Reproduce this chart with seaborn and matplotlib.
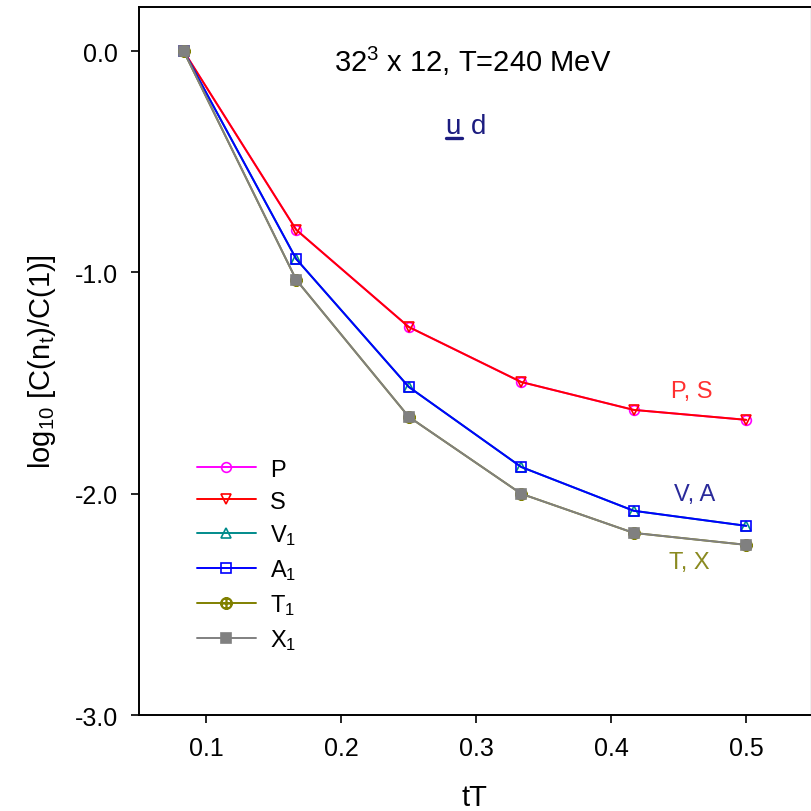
import matplotlib
matplotlib.use("Agg")
import matplotlib.pyplot as plt
import seaborn as sns

# --- data ---
tT = [1/12, 2/12, 3/12, 4/12, 5/12, 6/12]
P = [0.0, -0.807, -1.246, -1.495, -1.621, -1.666]
S = [0.0, -0.807, -1.246, -1.495, -1.621, -1.666]
V1 = [0.0, -0.939, -1.517, -1.879, -2.077, -2.145]
A1 = [0.0, -0.939, -1.517, -1.879, -2.077, -2.145]
T1 = [0.0, -1.033, -1.652, -2.000, -2.177, -2.231]
X1 = [0.0, -1.033, -1.652, -2.000, -2.177, -2.231]

sns.set_theme(style="ticks")
plt.rcParams['font.family'] = ['Liberation Sans', 'DejaVu Sans']
plt.rcParams['mathtext.fontset'] = 'custom'
plt.rcParams['mathtext.rm'] = 'Liberation Sans'
plt.rcParams['mathtext.it'] = 'Liberation Sans:italic'
plt.rcParams['axes.unicode_minus'] = False
plt.rcParams['text.color'] = 'black'
plt.rcParams['axes.labelcolor'] = 'black'
plt.rcParams['xtick.color'] = 'black'
plt.rcParams['ytick.color'] = 'black'

fig = plt.figure(figsize=(8.12, 8.12), dpi=100)
ax = fig.add_axes([0.1708, 0.1182, 0.828, 0.872])

series = [
    ("P", P, "#ff00ff", dict(marker="o", mfc="none", ms=7)),
    ("S", S, "#ff0000", dict(marker="v", mfc="none", ms=7)),
    ("V$_1$", V1, "#008b8b", dict(marker="^", mfc="none", ms=7)),
    ("A$_1$", A1, "#0000ff", dict(marker="s", mfc="none", ms=6.5)),
    ("T$_1$", T1, "#808000", dict(marker=r"$\oplus$", ms=8)),
    ("X$_1$", X1, "#808080", dict(marker="s", ms=7)),
]
for name, vals, col, mk in series:
    sns.lineplot(x=tT, y=vals, ax=ax, color=col, lw=1.4, label=name,
                 mec=col, mew=1.2, **mk)

ax.set_xlim(0.05, 0.548)
ax.set_ylim(-3.0, 0.2)
ax.set_xticks([0.1, 0.2, 0.3, 0.4, 0.5])
ax.set_xticklabels(["0.1", "0.2", "0.3", "0.4", "0.5"])
ax.set_yticks([0.0, -1.0, -2.0, -3.0])
ax.set_yticklabels(["0.0", "-1.0", "-2.0", "-3.0"])
ax.tick_params(labelsize=18, length=6, width=1.2, color="black", pad=9)

for side in ["left", "bottom", "top"]:
    ax.spines[side].set_color("black")
    ax.spines[side].set_linewidth(1.4)
ax.spines["right"].set_color("#b0b0b0")
ax.spines["right"].set_linewidth(1.0)

ax.set_xlabel("tT", fontsize=21, labelpad=17)
ax.set_ylabel("log$_{10}$ [C(n$_\\mathrm{t}$)/C(1)]", fontsize=21, labelpad=12)

ax.text(0.497, 0.924, "32$^3$ x 12, T=240 MeV", transform=ax.transAxes,
        fontsize=21, ha="center", va="center", color="black")
ax.text(0.468, 0.832, "u", transform=ax.transAxes, fontsize=20,
        ha="center", va="center", color="#1c1c80")
ax.text(0.505, 0.832, "d", transform=ax.transAxes, fontsize=20,
        ha="center", va="center", color="#1c1c80")
ax.plot([0.457, 0.481], [0.815, 0.815], transform=ax.transAxes,
        color="#1c1c80", lw=2.4)

ax.text(0.46, -1.535, "P, S", fontsize=17, color="#ff3030", ha="center", va="center")
ax.text(0.462, -2.0, "V, A", fontsize=17, color="#2a2a9a", ha="center", va="center")
ax.text(0.458, -2.31, "T, X", fontsize=17, color="#8a8a20", ha="center", va="center")

leg = ax.legend(loc="upper left", bbox_to_anchor=(0.055, 0.392), frameon=False,
                fontsize=17, handlelength=2.5, labelspacing=0.42, handletextpad=0.6)

fig.savefig("out.png", dpi=100)
